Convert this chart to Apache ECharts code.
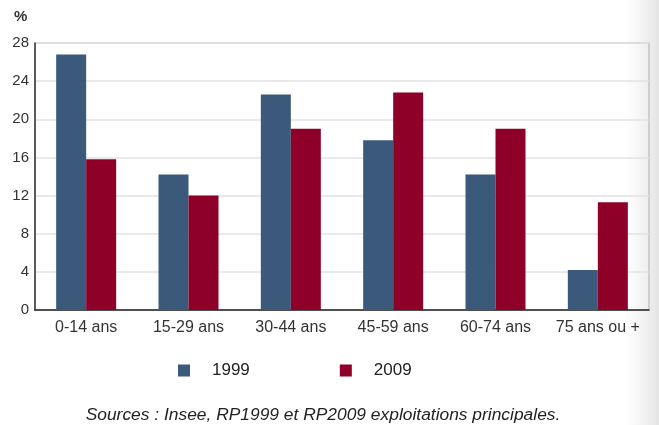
<!DOCTYPE html>
<html><head><meta charset="utf-8">
<script src="https://cdn.jsdelivr.net/npm/echarts@6/dist/echarts.min.js"></script>
<style>html,body{margin:0;padding:0;background:#fff}#c{width:659px;height:425px}</style>
</head><body><div id="c"></div>
<script>
const categories = ['0-14 ans','15-29 ans','30-44 ans','45-59 ans','60-74 ans','75 ans ou +'];
const values1999 = [26.8, 14.2, 22.6, 17.8, 14.2, 4.2];
const values2009 = [15.8, 12.0, 19.0, 22.8, 19.0, 11.3];
const yTicks = [0, 4, 8, 12, 16, 20, 24, 28];
const seriesNames = ['1999', '2009'];
const sourceText = 'Sources : Insee, RP1999 et RP2009 exploitations principales.';

const chart = echarts.init(document.getElementById('c'), null, {renderer:'canvas'});
const font = 'Liberation Sans, Arial, sans-serif';
chart.setOption({
  animation: false,
  backgroundColor: '#fff',
  grid: {left: 35, right: 10, top: 43, bottom: 115, show: true, borderColor: '#c4c4c4', borderWidth: 1.5, backgroundColor: 'transparent'},
  legend: {
    data: seriesNames, left: 173, top: 357, icon: 'rect', itemWidth: 12, itemHeight: 12, itemGap: 90,
    textStyle: {fontFamily: font, fontSize: 17, color: '#222', padding: [0,0,0,17]}
  },
  xAxis: {
    type: 'category', data: categories,
    axisLine: {show: true, lineStyle: {color: '#222', width: 1.5}},
    axisTick: {show: false},
    axisLabel: {fontFamily: font, fontSize: 16, color: '#333', margin: 10, interval: 0}
  },
  yAxis: {
    type: 'value', min: yTicks[0], max: yTicks[yTicks.length-1], interval: 4,
    axisLine: {show: true, lineStyle: {color: '#333', width: 1.5}},
    axisTick: {show: false},
    splitLine: {lineStyle: {color: '#e2e2e2', width: 1.5}},
    axisLabel: {fontFamily: font, fontSize: 15, color: '#333', margin: 6}
  },
  series: [
    {name: seriesNames[0], type: 'bar', data: values1999, barWidth: 30, barGap: '0%', itemStyle: {color: '#3b5a7b'}},
    {name: seriesNames[1], type: 'bar', data: values2009, barWidth: 30, barGap: '0%', itemStyle: {color: '#8f0028'}}
  ],
  graphic: [
    {type: 'text', left: 14, top: 9, style: {text: '%', font: 'bold 15px ' + font, fill: '#333'}},
    {type: 'text', x: 323, y: 415, style: {text: sourceText, font: 'italic 17.4px ' + font, fill: '#222', textAlign: 'center', textVerticalAlign: 'middle'}},
    {type: 'rect', z: -1, shape: {x: 625, y: 0, width: 34, height: 425},
      style: {fill: new echarts.graphic.LinearGradient(0,0,1,0,[{offset:0,color:'rgba(235,235,235,0)'},{offset:1,color:'rgba(228,228,228,1)'}])}}
  ]
});
</script></body></html>
